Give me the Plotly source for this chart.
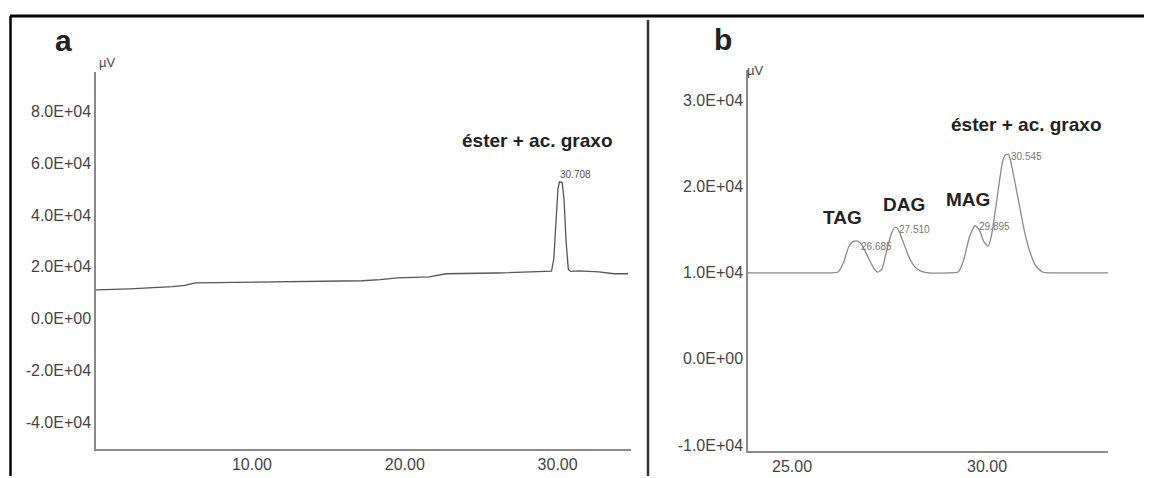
import plotly.graph_objects as go

# ---------------- data: panel a ----------------
a_time = [-0.2, 2.0, 4.8, 5.6, 6.3, 9.9, 13.1, 17.2, 18.4, 19.5, 21.6, 22.7, 26.0,
          29.3, 29.6, 29.75, 29.9, 30.02, 30.12, 30.3, 30.42, 30.55, 30.7, 30.85,
          31.4, 32.7, 33.7, 34.6]
a_signal = [11100, 11500, 12300, 12800, 13800, 14000, 14400, 14600, 15000, 15700, 16100,
            17300, 17600, 18000, 18300, 23000, 36000, 50000, 52800, 52500, 46000, 30000,
            19000, 18200, 18400, 18000, 17300, 17300]
a_ytick_vals = [-40000, -20000, 0, 20000, 40000, 60000, 80000]
a_ytick_text = ["-4.0E+04", "-2.0E+04", "0.0E+00", "2.0E+04", "4.0E+04", "6.0E+04", "8.0E+04"]
a_xtick_vals = [10, 20, 30]
a_xtick_text = ["10.00", "20.00", "30.00"]
a_peak_label = ["30.708"]
a_peak_x = [30.0]
a_peak_y = [55700]

# ---------------- data: panel b ----------------
b_time = [23.87, 25.5, 26.0, 26.18, 26.32, 26.45, 26.55, 26.68, 26.78, 26.95,
          27.1, 27.2, 27.3, 27.42, 27.55, 27.64, 27.7, 27.85, 28.0, 28.15,
          28.3, 28.5, 29.0, 29.26, 29.4, 29.55, 29.69, 29.8, 29.92, 30.03,
          30.12, 30.25, 30.4, 30.47, 30.55, 30.65, 30.8, 30.95, 31.1, 31.25,
          31.42, 31.6, 32.5, 33.1]
b_signal = [10000, 10000, 10000, 10100, 11200, 13000, 13600, 13700, 13300, 11800,
            10500, 10100, 10400, 12500, 14600, 15300, 15200, 13600, 11800, 10700,
            10200, 10000, 10000, 10100, 11500, 14200, 15500, 15000, 13600, 13100,
            14500, 18500, 23000, 23700, 23800, 22000, 18500, 15000, 12400, 10800,
            10100, 10000, 10000, 10000]
b_ytick_vals = [-10000, 0, 10000, 20000, 30000]
b_ytick_text = ["-1.0E+04", "0.0E+00", "1.0E+04", "2.0E+04", "3.0E+04"]
b_xtick_vals = [25, 30]
b_xtick_text = ["25.00", "30.00"]
b_peak_label = ["26.685", "27.510", "29.895", "30.545"]
b_peak_x = [26.72, 27.7, 29.74, 30.56]
b_peak_y = [13100, 15000, 15400, 23500]

FONT = "Liberation Sans, Arial, sans-serif"
OFF = 8                      # page body margin of the html document
W, H = 1152 - OFF, 478 - OFF

def fx(px):
    return (px - OFF) / W

def fy(py):
    return 1 - (py - OFF) / H

fig = go.Figure()
fig.add_trace(go.Scatter(x=a_time, y=a_signal, mode="lines", xaxis="x", yaxis="y",
                         line=dict(color="#555555", width=1.3), showlegend=False, hoverinfo="skip"))
fig.add_trace(go.Scatter(x=b_time, y=b_signal, mode="lines", xaxis="x2", yaxis="y2",
                         line=dict(color="#8a8a8a", width=1.3, shape="spline", smoothing=0.5),
                         showlegend=False, hoverinfo="skip"))

tickfont = dict(family=FONT, size=16, color="#444444")
common = dict(showline=True, linecolor="#8a8a8a", linewidth=1.5, showgrid=False,
              zeroline=False, ticks="", tickfont=tickfont, fixedrange=True)

annotations = []
def pa(text, px, py, size, bold=True, color="#222222", xanchor="center"):
    t = f"<b>{text}</b>" if bold else text
    annotations.append(dict(text=t, x=fx(px), y=fy(py), xref="paper", yref="paper",
                            xanchor=xanchor, yanchor="middle", showarrow=False,
                            font=dict(family=FONT, size=size, color=color)))

pa("a", 63, 41, 30)
pa("b", 723, 40, 30)
pa("µV", 97, 63, 13, bold=False, color="#444444", xanchor="left")
pa("µV", 745, 71, 13, bold=False, color="#444444", xanchor="left")
pa("éster + ac. graxo", 537, 141, 19)
pa("éster + ac. graxo", 1026, 125, 19)
pa("TAG", 842, 218, 19)
pa("DAG", 904, 205, 19)
pa("MAG", 968, 200, 19)

for lab, x, y in zip(a_peak_label, a_peak_x, a_peak_y):
    annotations.append(dict(text=lab, x=x, y=y, xref="x", yref="y", xanchor="left",
                            yanchor="middle", showarrow=False,
                            font=dict(family=FONT, size=10, color="#555555")))
for lab, x, y in zip(b_peak_label, b_peak_x, b_peak_y):
    annotations.append(dict(text=lab, x=x, y=y, xref="x2", yref="y2", xanchor="left",
                            yanchor="middle", showarrow=False,
                            font=dict(family=FONT, size=10, color="#777777")))

shapes = [
    dict(type="line", xref="paper", yref="paper", x0=fx(10), x1=1, y0=fy(16), y1=fy(16),
         line=dict(color="black", width=3)),
    dict(type="line", xref="paper", yref="paper", x0=fx(10.5), x1=fx(10.5), y0=0, y1=fy(16),
         line=dict(color="black", width=2.5)),
    dict(type="line", xref="paper", yref="paper", x0=fx(648), x1=fx(648), y0=0, y1=fy(20),
         line=dict(color="#333333", width=2.5)),
]

fig.update_layout(
    width=W, height=H, margin=dict(l=0, r=0, t=0, b=0),
    paper_bgcolor="white", plot_bgcolor="white",
    xaxis=dict(domain=[fx(96), fx(631)], range=[-0.2, 34.8], anchor="y",
               tickvals=a_xtick_vals, ticktext=a_xtick_text, **common),
    yaxis=dict(domain=[fy(451), fy(72)], range=[-50400, 95300], anchor="x",
               tickvals=a_ytick_vals, ticktext=a_ytick_text, **common),
    xaxis2=dict(domain=[fx(748), fx(1108)], range=[23.87, 33.1], anchor="y2",
                tickvals=b_xtick_vals, ticktext=b_xtick_text, **common),
    yaxis2=dict(domain=[fy(453), fy(70)], range=[-10720, 33610], anchor="x2",
                tickvals=b_ytick_vals, ticktext=b_ytick_text, **common),
    annotations=annotations, shapes=shapes,
)

fig.write_html("out.html", config={"displayModeBar": False})
